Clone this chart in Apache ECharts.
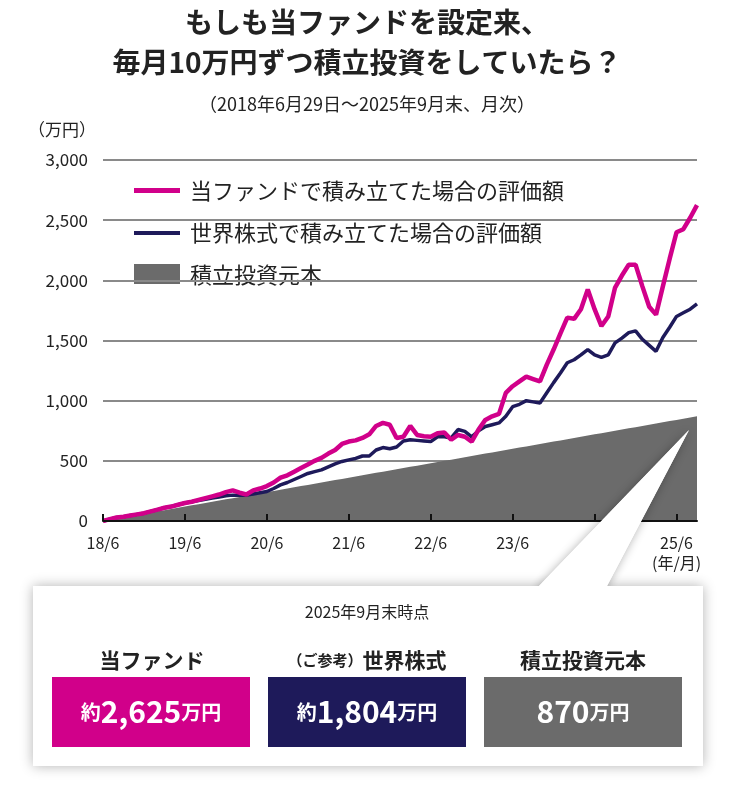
<!DOCTYPE html>
<html><head><meta charset="utf-8">
<script src="https://cdn.jsdelivr.net/npm/echarts@6/dist/echarts.min.js"></script>
<style>html,body{margin:0;padding:0;background:#fff}#c{width:734px;height:797px}</style>
</head><body><div id="c"></div>
<script>
const fundValues=[0,15,30,35,45,55,65,80,95,110,120,135,150,160,175,190,205,220,240,255,235,220,255,270,290,320,360,380,410,440,470,500,525,560,590,640,660,670,690,720,790,815,800,690,700,790,715,705,700,730,735,675,715,700,660,760,840,870,890,1065,1120,1160,1200,1180,1160,1300,1425,1560,1690,1680,1760,1925,1760,1620,1700,1940,2040,2130,2130,1950,1780,1715,1950,2180,2400,2425,2520,2625];
const worldValues=[0,15,30,35,45,55,65,80,95,110,120,135,150,160,170,180,190,200,210,215,215,215,225,235,245,270,300,320,345,370,395,410,425,450,475,495,508,520,540,540,590,610,600,615,665,675,670,665,660,700,700,690,760,745,700,750,785,800,815,870,950,970,1000,990,980,1065,1150,1230,1315,1340,1380,1425,1380,1360,1380,1480,1520,1565,1580,1510,1460,1410,1525,1610,1700,1730,1760,1804];
const principalValues=[0,10,20,30,40,50,60,70,80,90,100,110,120,130,140,150,160,170,180,190,200,210,220,230,240,250,260,270,280,290,300,310,320,330,340,350,360,370,380,390,400,410,420,430,440,450,460,470,480,490,500,510,520,530,540,550,560,570,580,590,600,610,620,630,640,650,660,670,680,690,700,710,720,730,740,750,760,770,780,790,800,810,820,830,840,850,860,870];
const xTickLabels={"18/6":"18/6","19/6":"19/6","20/6":"20/6","21/6":"21/6","22/6":"22/6","23/6":"23/6","25/6":"25/6\n(年/月)"};
const seriesNames=["当ファンドで積み立てた場合の評価額","世界株式で積み立てた場合の評価額","積立投資元本"];
const categories=[];
for(let i=0;i<fundValues.length;i++){const m=6+i;const y=18+Math.floor((m-1)/12);const mm=((m-1)%12)+1;categories.push(y+"/"+mm);}
const PINK="#d1008a",NAVY="#1e1a5a",GRAY="#6b6b6b";
const F="'Noto Sans CJK JP','Noto Sans',sans-serif";
const chart=echarts.init(document.getElementById('c'));
function valBox(x,color,num){
  return [
    {type:'rect',z:20,shape:{x:x,y:677,width:198,height:70},style:{fill:color}},
    {type:'text',z:21,x:x+99,y:712,style:{text:num,fill:'#fff',align:'center',verticalAlign:'middle',font:'bold 30px '+F,
      rich:{s:{fontSize:20,fontWeight:'bold',fill:'#fff',fontFamily:F},b:{fontSize:30,fontWeight:'bold',fill:'#fff',fontFamily:F}}}}
  ];
}
const tri=[[535,590],[605,590],[689,430]];
chart.setOption({
  animation:false,
  grid:{left:103,right:37,top:160,bottom:276},
  xAxis:{type:'category',data:categories,boundaryGap:false,z:5,
    axisLine:{lineStyle:{color:'#111',width:2}},
    axisTick:{inside:true,length:7,lineStyle:{color:'#111',width:2},interval:(i)=>i%12===0},
    axisLabel:{interval:0,color:'#222',fontSize:16,fontFamily:F,margin:12,lineHeight:20,verticalAlign:'top',
      formatter:(v)=>xTickLabels[v]||''}},
  yAxis:{type:'value',min:0,max:3000,interval:500,
    axisLabel:{color:'#222',fontSize:17,fontFamily:F,margin:15,formatter:(v)=>v.toLocaleString('en-US')},
    splitLine:{lineStyle:{color:'#8a8a8a',width:2}}},
  series:[
    {name:seriesNames[2],type:'line',data:principalValues,symbol:'none',lineStyle:{width:0},areaStyle:{color:GRAY,opacity:1},z:1},
    {name:seriesNames[1],type:'line',data:worldValues,symbol:'none',lineStyle:{color:NAVY,width:3.5},z:3},
    {name:seriesNames[0],type:'line',data:fundValues,symbol:'none',lineStyle:{color:PINK,width:4.5},z:4}
  ],
  graphic:[
    {type:'text',x:367,y:22,style:{text:'もしも当ファンドを設定来、',align:'center',verticalAlign:'middle',font:'bold 28px '+F,fill:'#222'}},
    {type:'text',x:367,y:62,style:{text:'毎月10万円ずつ積立投資をしていたら？',align:'center',verticalAlign:'middle',font:'bold 28px '+F,fill:'#222'}},
    {type:'text',x:367,y:104,style:{text:'（2018年6月29日～2025年9月末、月次）',align:'center',verticalAlign:'middle',font:'18px '+F,fill:'#222'}},
    {type:'text',x:62,y:130,style:{text:'（万円）',align:'center',verticalAlign:'middle',font:'17px '+F,fill:'#222'}},
    {type:'rect',shape:{x:134,y:188,width:46,height:5},style:{fill:PINK}},
    {type:'text',x:190,y:191,style:{text:seriesNames[0],verticalAlign:'middle',font:'22px '+F,fill:'#222'}},
    {type:'rect',shape:{x:134,y:231,width:46,height:4},style:{fill:NAVY}},
    {type:'text',x:190,y:233,style:{text:seriesNames[1],verticalAlign:'middle',font:'22px '+F,fill:'#222'}},
    {type:'rect',shape:{x:134,y:264,width:46,height:20},style:{fill:GRAY}},
    {type:'text',x:190,y:275,style:{text:seriesNames[2],verticalAlign:'middle',font:'22px '+F,fill:'#222'}},
    {type:'polygon',shape:{points:tri},style:{fill:'#fff',shadowBlur:10,shadowColor:'rgba(0,0,0,0.3)'},z:10},
    {type:'rect',shape:{x:33,y:586,width:670,height:180},style:{fill:'#fff',shadowBlur:12,shadowColor:'rgba(0,0,0,0.3)'},z:10},
    {type:'polygon',shape:{points:tri},style:{fill:'#fff'},z:11},
    {type:'text',z:20,x:367,y:612,style:{text:'2025年9月末時点',align:'center',verticalAlign:'middle',font:'16px '+F,fill:'#222'}},
    {type:'text',z:20,x:152,y:660,style:{text:'当ファンド',align:'center',verticalAlign:'middle',font:'bold 21px '+F,fill:'#222'}},
    {type:'text',z:20,x:367,y:660,style:{text:'{s|（ご参考）}世界株式',align:'center',verticalAlign:'middle',font:'bold 21px '+F,fill:'#222',
      rich:{s:{fontSize:15,fontWeight:'bold',fill:'#222',fontFamily:F}}}},
    {type:'text',z:20,x:583,y:660,style:{text:'積立投資元本',align:'center',verticalAlign:'middle',font:'bold 21px '+F,fill:'#222'}},
    ...valBox(52,PINK,'{s|約}{b|2,625}{s|万円}'),
    ...valBox(268,NAVY,'{s|約}{b|1,804}{s|万円}'),
    ...valBox(484,GRAY,'{b|870}{s|万円}')
  ]
});
</script></body></html>
